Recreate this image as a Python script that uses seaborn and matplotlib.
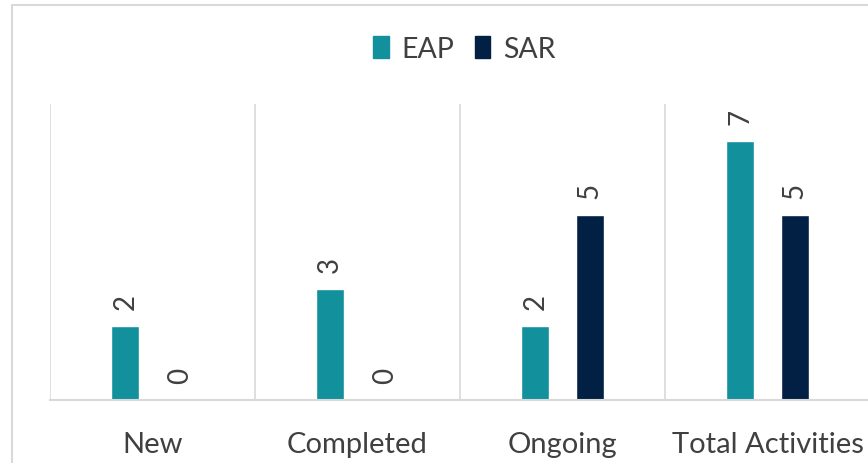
import matplotlib
matplotlib.use("Agg")
import matplotlib.pyplot as plt
import matplotlib.patches as mpatches
import seaborn as sns
import pandas as pd

categories = ["New", "Completed", "Ongoing", "Total Activities"]
eap_values = [2, 3, 2, 7]
sar_values = [0, 0, 5, 5]
series_names = ["EAP", "SAR"]
colors = ["#12909B", "#021F44"]

df = pd.DataFrame({
    "category": categories * 2,
    "value": eap_values + sar_values,
    "series": [series_names[0]] * len(categories) + [series_names[1]] * len(categories),
})

sns.set_theme(style="white")
plt.rcParams["font.family"] = ["Lato", "DejaVu Sans"]
text_color = "#404040"
grid_color = "#D9D9D9"

fig = plt.figure(figsize=(8.68, 4.64), dpi=100)
ax = fig.add_axes([50 / 868, (464 - 401) / 464, 820 / 868, (401 - 105) / 464])

sns.barplot(data=df, x="category", y="value", hue="series", order=categories,
            hue_order=series_names, palette=colors, width=0.53, gap=0.48,
            ax=ax, legend=False, saturation=1)

ax.set_xlim(-0.5, 3.5)
ax.set_ylim(0, 8)
ax.set_xlabel("")
ax.set_ylabel("")
ax.set_yticks([])
for b in [-0.5, 0.5, 1.5, 2.5, 3.5]:
    ax.axvline(b, color=grid_color, lw=1.2, zorder=0)
for s in ["top", "right", "left"]:
    ax.spines[s].set_visible(False)
ax.spines["bottom"].set_color(grid_color)
ax.spines["bottom"].set_linewidth(1.5)
ax.tick_params(axis="x", length=0, pad=22, labelsize=21, labelcolor=text_color)

for container in ax.containers:
    for bar in container:
        h = bar.get_height()
        ax.annotate(f"{int(round(h))}", (bar.get_x() + bar.get_width() / 2, h),
                    xytext=(0, 12.5), textcoords="offset points", rotation=90,
                    ha="center", va="bottom", fontsize=20, color=text_color)

handles = [mpatches.Patch(color=c, label=n) for c, n in zip(colors, series_names)]
fig.legend(handles=handles, loc="center", bbox_to_anchor=(0.535, 0.893), ncol=2,
           frameon=False, fontsize=20.5, labelcolor=text_color, handlelength=0.55,
           handleheight=0.85, handletextpad=0.45, columnspacing=0.7)

border = mpatches.Rectangle((12 / 868, -0.2), 1.2, (464 - 6) / 464 + 0.2,
                            transform=fig.transFigure, fill=False,
                            edgecolor=grid_color, lw=1.5, clip_on=False)
fig.patches.append(border)

fig.savefig("out.png", dpi=100)
